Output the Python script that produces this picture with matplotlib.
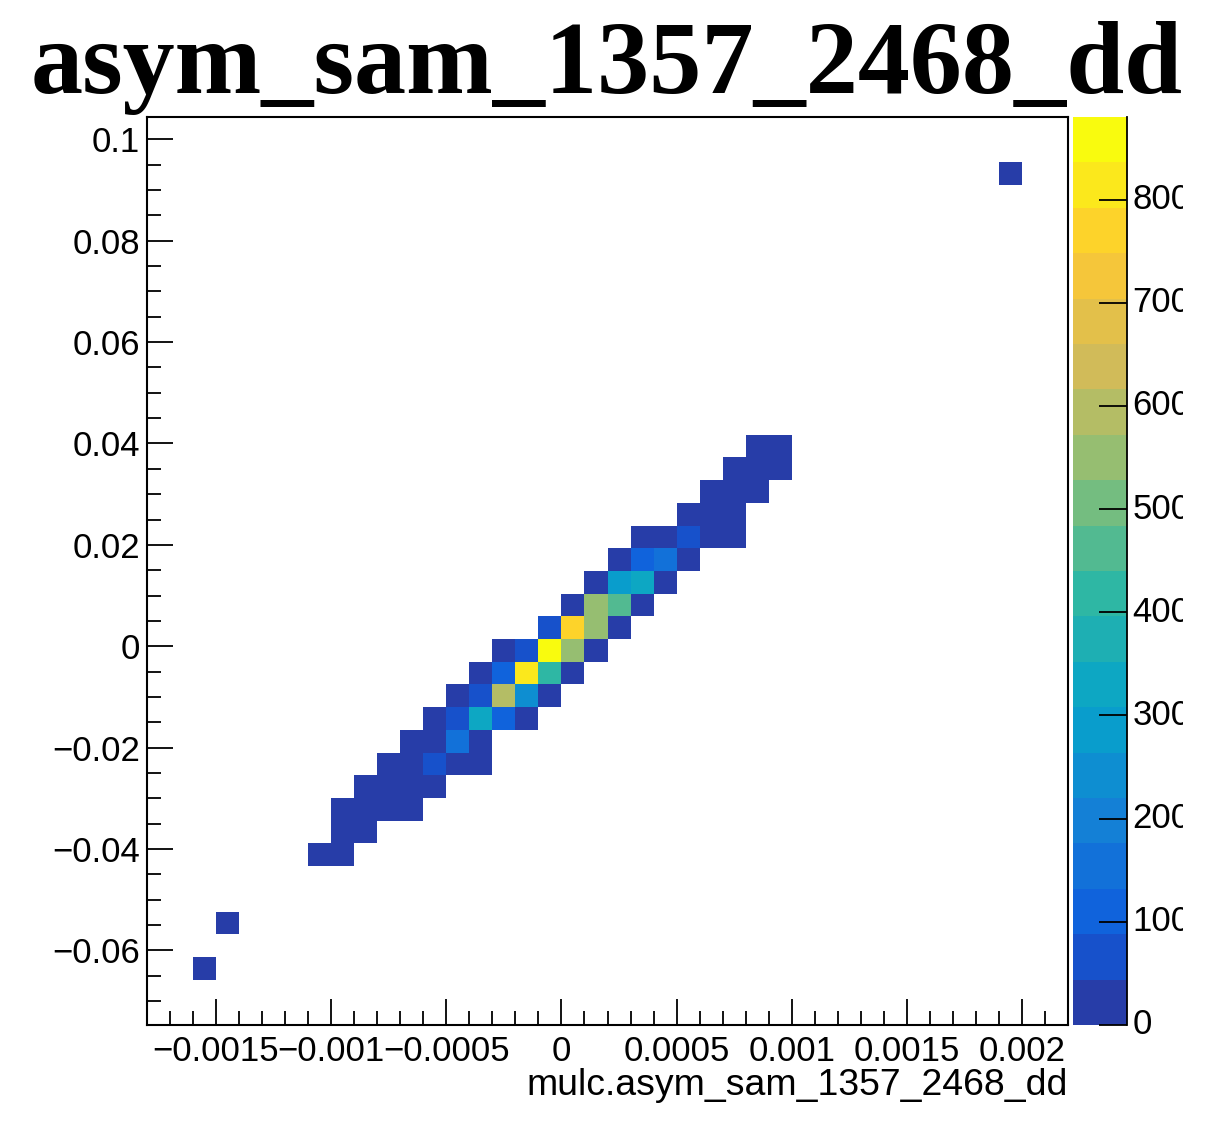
import matplotlib
matplotlib.use("Agg")
import matplotlib.pyplot as plt
import matplotlib.colors as mcolors
from matplotlib.ticker import FixedLocator, FuncFormatter
from matplotlib.transforms import Bbox
import numpy as np

plt.rcParams['font.family'] = 'Liberation Sans'

title = "asym_sam_1357_2468_dd"
x_title = "mulc.asym_sam_1357_2468_dd"

# 40 x 40 binning of the 2D histogram
x_lo, x_hi, nx = -0.0018, 0.0022, 40
y_lo, y_hi, ny = -0.0747, 0.1044, 40

# filled bins: column from the left, row from the top, bin content
cell_col = [26, 27,
            25, 26, 27,
            24, 25, 26,
            23, 24, 25,
            21, 22, 23, 24, 25,
            20, 21, 22, 23,
            19, 20, 21, 22,
            18, 19, 20, 21,
            17, 18, 19, 20,
            15, 16, 17, 18, 19,
            14, 15, 16, 17, 18,
            13, 14, 15, 16, 17,
            12, 13, 14, 15, 16,
            11, 12, 13, 14,
            10, 11, 12, 13, 14,
            9, 10, 11, 12,
            8, 9, 10, 11,
            8, 9,
            7, 8,
            37, 3, 2]
cell_row = [14, 14,
            15, 15, 15,
            16, 16, 16,
            17, 17, 17,
            18, 18, 18, 18, 18,
            19, 19, 19, 19,
            20, 20, 20, 20,
            21, 21, 21, 21,
            22, 22, 22, 22,
            23, 23, 23, 23, 23,
            24, 24, 24, 24, 24,
            25, 25, 25, 25, 25,
            26, 26, 26, 26, 26,
            27, 27, 27, 27,
            28, 28, 28, 28, 28,
            29, 29, 29, 29,
            30, 30, 30, 30,
            31, 31,
            32, 32,
            2, 35, 37]
cell_cnt = [12, 20,
            8, 25, 30,
            15, 28, 22,
            18, 30, 25,
            20, 35, 66, 38, 24,
            30, 110, 154, 35,
            36, 286, 330, 40,
            30, 550, 462, 38,
            66, 770, 550, 35,
            25, 66, 878, 550, 40,
            30, 110, 814, 418, 38,
            32, 66, 594, 242, 35,
            28, 66, 330, 110, 30,
            22, 36, 154, 30,
            14, 30, 66, 38, 20,
            12, 28, 30, 18,
            10, 22, 25, 14,
            12, 15,
            8, 12,
            1, 1, 1]

z_max = 880
n_levels = 20
cbar_ticks = [0, 100, 200, 300, 400, 500, 600, 700, 800]

# ROOT kBird palette
bird_stops = [0.0, 0.125, 0.25, 0.375, 0.5, 0.625, 0.75, 0.875, 1.0]
bird_r = [0.2082, 0.0592, 0.0780, 0.0232, 0.1802, 0.5301, 0.8186, 0.9956, 0.9764]
bird_g = [0.1664, 0.3599, 0.5041, 0.6419, 0.7178, 0.7492, 0.7328, 0.7862, 0.9832]
bird_b = [0.5293, 0.8684, 0.8385, 0.7914, 0.6425, 0.4662, 0.3499, 0.1968, 0.0539]

bird = mcolors.LinearSegmentedColormap.from_list(
    'bird', list(zip(bird_stops, zip(bird_r, bird_g, bird_b))), N=255)
idx = [int((i + 0.99) * 255 / n_levels) for i in range(n_levels)]
cmap = mcolors.ListedColormap([bird(j) for j in idx])
norm = mcolors.BoundaryNorm(np.linspace(0, z_max, n_levels + 1), n_levels)

H = np.zeros((ny, nx))
for c, r, v in zip(cell_col, cell_row, cell_cnt):
    H[ny - 1 - r, c] = v
H = np.ma.masked_equal(H, 0)
xedges = np.linspace(x_lo, x_hi, nx + 1)
yedges = np.linspace(y_lo, y_hi, ny + 1)

W, Hpx = 1216, 1121
fig = plt.figure(figsize=(W / 100, Hpx / 100), dpi=100)

fl, fr, ft, fb = 147, 1068, 117, 1025
ax = fig.add_axes([fl / W, 1 - fb / Hpx, (fr - fl) / W, (fb - ft) / Hpx])
mesh = ax.pcolormesh(xedges, yedges, H, cmap=cmap, norm=norm)
ax.set_xlim(x_lo, x_hi)
ax.set_ylim(y_lo, y_hi)


def root_fmt(v, pos):
    v = round(v, 8)
    if v == 0:
        return "0"
    return ("%g" % v).replace("-", "\u2212")


ax.xaxis.set_major_locator(FixedLocator(np.round(np.arange(-0.0015, 0.00201, 0.0005), 6)))
ax.xaxis.set_minor_locator(FixedLocator(np.round(np.arange(-0.0017, 0.00221, 0.0001), 6)))
ax.yaxis.set_major_locator(FixedLocator(np.round(np.arange(-0.06, 0.101, 0.02), 4)))
ax.yaxis.set_minor_locator(FixedLocator(np.round(np.arange(-0.07, 0.1041, 0.005), 4)))
ax.xaxis.set_major_formatter(FuncFormatter(root_fmt))
ax.yaxis.set_major_formatter(FuncFormatter(root_fmt))
ax.tick_params(which='both', direction='in', width=1.3, colors='black')
ax.tick_params(which='major', length=19)
ax.tick_params(which='minor', length=10)
ax.tick_params(axis='x', which='major', labelsize=25, pad=7)
ax.tick_params(axis='y', which='major', labelsize=25, pad=5)
for s in ax.spines.values():
    s.set_linewidth(1.5)

ax.text(1.0, -0.047, x_title, transform=ax.transAxes, ha='right', va='top', fontsize=26.9)

# palette axis
cl, cr = 1073, 1127
cax = fig.add_axes([cl / W, 1 - fb / Hpx, (cr - cl) / W, (fb - ft) / Hpx])
cbar = fig.colorbar(mesh, cax=cax, ticks=cbar_ticks)
cbar.outline.set_visible(False)
cax.plot([1, 1], [0, 1], transform=cax.transAxes, color='black', lw=1.3, clip_on=False)
cax.tick_params(direction='in', length=20, width=1.3, labelright=False)
cax.minorticks_off()
clip = Bbox.from_extents(0, 0, 1183, Hpx)
for t in cbar_ticks:
    txt = cax.text(1.1, t, str(t), transform=cax.get_yaxis_transform(),
                   ha='left', va='center', fontsize=25)
    txt.set_clip_box(clip)
    txt.set_clip_on(True)

fig.text(607 / W, 1 - 93 / Hpx, title, ha='center', va='baseline',
         fontfamily='Liberation Serif', fontweight='bold', fontsize=75)

fig.savefig("out.png", dpi=100, facecolor='white')
